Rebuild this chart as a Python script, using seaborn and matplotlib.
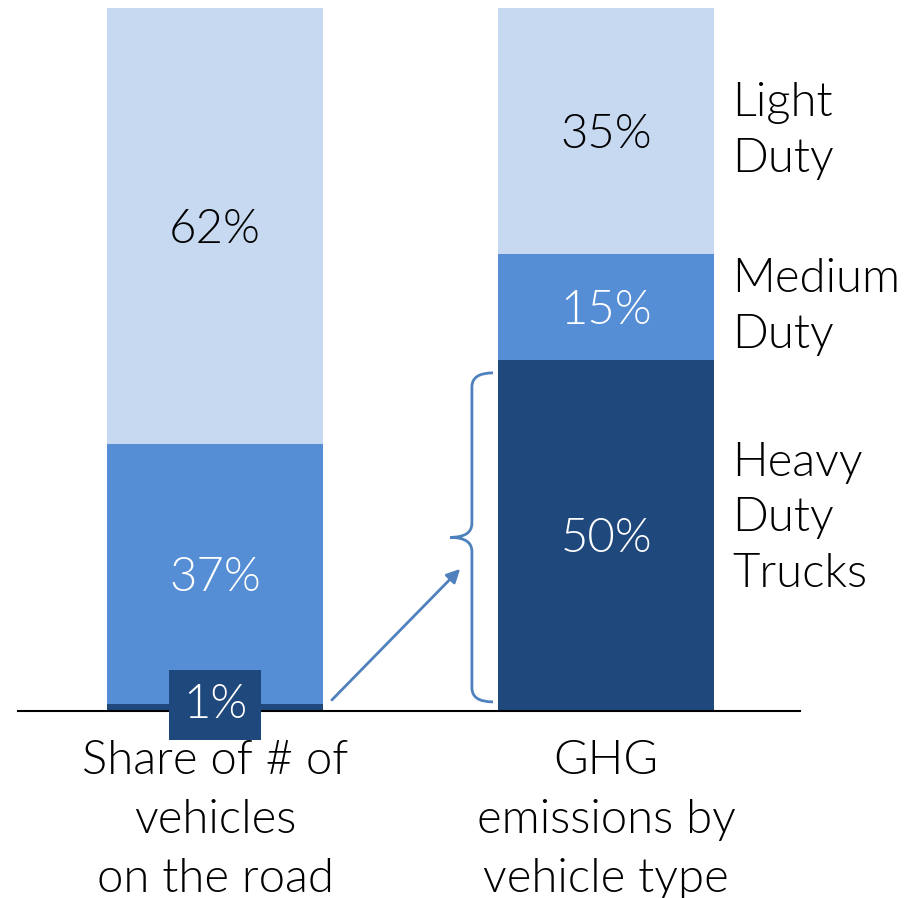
import numpy as np
import seaborn as sns
import matplotlib.pyplot as plt
from matplotlib.path import Path
from matplotlib.patches import PathPatch

# Data
categories = ["Share of # of\nvehicles\non the road", "GHG\nemissions by\nvehicle type"]
heavy = [1, 50]
medium = [37, 15]
light = [62, 35]
segment_names = ["Light\nDuty", "Medium\nDuty", "Heavy\nDuty\nTrucks"]

c_light = "#C6D9F0"
c_medium = "#558ED5"
c_heavy = "#1F497D"
c_arrow = "#4F81BD"

sns.set_style("white")
plt.rcParams["font.family"] = ["Lato", "DejaVu Sans"]
plt.rcParams["text.color"] = "black"
FS = 34
WT = 300
LS = 1.4

fig = plt.figure(figsize=(9.08, 8.98), dpi=100)
ax = fig.add_axes([0.0198, 0.2082, 0.8612, 0.7829])

# stacked bars: draw cumulative totals back to front
tot_med = [h + m for h, m in zip(heavy, medium)]
tot_all = [t + l for t, l in zip(tot_med, light)]
W = 0.552
for vals, col in [(tot_all, c_light), (tot_med, c_medium), (heavy, c_heavy)]:
    sns.barplot(x=categories, y=vals, color=col, width=W, saturation=1,
                linewidth=0, ax=ax)

ax.set_xlim(-0.504, 1.496)
ax.set_ylim(0, 100)
sns.despine(ax=ax, left=True, top=True, right=True)
ax.spines["bottom"].set_linewidth(1.5)
ax.spines["bottom"].set_color("black")
ax.set_yticks([])
ax.tick_params(axis="x", length=0, pad=21, labelsize=FS, labelcolor="black")
for t in ax.get_xticklabels():
    t.set_fontweight(WT)
    t.set_linespacing(1.5)
ax.set_xlabel("")
ax.set_ylabel("")

# segment labels
VA = "center_baseline"
for i in range(2):
    ax.text(i, tot_med[i] + light[i] / 2, f"{light[i]}%", ha="center", va=VA,
            fontsize=FS, color="black", fontweight=WT)
    ax.text(i, heavy[i] + medium[i] / 2, f"{medium[i]}%", ha="center", va=VA,
            fontsize=FS, color="white", fontweight=WT)
ax.text(1, heavy[1] / 2, f"{heavy[1]}%", ha="center", va=VA,
        fontsize=FS, color="white", fontweight=WT)
ax.text(0, 0.85, f"{heavy[0]}%", ha="center", va="center", fontsize=FS,
        color="white", fontweight=WT, clip_on=False, zorder=5,
        bbox=dict(boxstyle="square,pad=0.3", fc=c_heavy, ec="none"))

# category names at right
xr = 1.322
ax.text(xr, tot_med[1] + light[1] / 2, segment_names[0], ha="left", va="center",
        fontsize=FS, fontweight=WT, linespacing=LS, clip_on=False)
ax.text(xr, heavy[1] + medium[1] / 2, segment_names[1], ha="left", va="center",
        fontsize=FS, fontweight=WT, linespacing=LS, clip_on=False)
ax.text(xr, 27.4, segment_names[2], ha="left", va="center",
        fontsize=FS, fontweight=WT, linespacing=LS, clip_on=False)

# arrow from 1% to heavy duty bar
ax.annotate("", xy=(0.632, 20.5), xytext=(0.294, 1.3),
            arrowprops=dict(arrowstyle="-|>,head_length=0.8,head_width=0.4",
                            color=c_arrow, lw=2), annotation_clip=False)

# curly brace next to heavy duty bar
top, bot = heavy[1] - 1.9, 1.3
mid = (top + bot) / 2
xe, xv, xt = 0.711, 0.657, 0.601
r = 2.0
verts = [(xe, top), (xv, top), (xv, top - r),
         (xv, mid + r), (xv, mid), (xt, mid),
         (xv, mid), (xv, mid - r),
         (xv, bot + r), (xv, bot), (xe, bot)]
codes = [Path.MOVETO, Path.CURVE3, Path.CURVE3,
         Path.LINETO, Path.CURVE3, Path.CURVE3,
         Path.CURVE3, Path.CURVE3,
         Path.LINETO, Path.CURVE3, Path.CURVE3]
ax.add_patch(PathPatch(Path(verts, codes), fc="none", ec=c_arrow, lw=2, clip_on=False))

plt.savefig("out.png", dpi=100)
